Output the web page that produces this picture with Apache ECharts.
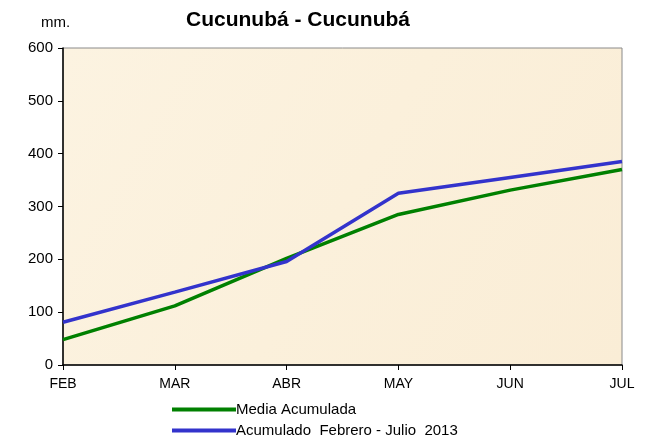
<!DOCTYPE html>
<html>
<head>
<meta charset="utf-8">
<script src="https://cdn.jsdelivr.net/npm/echarts@6/dist/echarts.min.js"></script>
<style>
html,body{margin:0;padding:0;background:#fff;}
#c{width:656px;height:443px;}
</style>
</head>
<body>
<div id="c"></div>
<script>
const categories = ['FEB', 'MAR', 'ABR', 'MAY', 'JUN', 'JUL'];
const mediaAcumulada = [48, 112, 202, 285, 331, 370];
const acumulado2013 = [81, 138, 196, 325, 355, 385];
const seriesNames = ['Media Acumulada', 'Acumulado  Febrero - Julio  2013'];
const yTicks = [0, 100, 200, 300, 400, 500, 600];

const chart = echarts.init(document.getElementById('c'), null, {renderer: 'canvas'});
const font = 'Liberation Sans, Arial, sans-serif';
chart.setOption({
  animation: false,
  backgroundColor: '#ffffff',
  title: [
    {text: 'Cucunubá - Cucunubá', left: 293, top: 5, textAlign: 'center',
     textStyle: {fontFamily: font, fontSize: 21, fontWeight: 'bold', color: '#000'}},
    {text: 'mm.', left: 36, top: 10,
     textStyle: {fontFamily: font, fontSize: 15, fontWeight: 'normal', color: '#000'}}
  ],
  grid: {left: 63, right: 34, top: 48, bottom: 78, show: true,
    backgroundColor: new echarts.graphic.LinearGradient(0, 0, 1, 1, [
      {offset: 0, color: '#FCF3E1'}, {offset: 0.5, color: '#FBF0DB'}, {offset: 1, color: '#FAEDD6'}]),
    borderColor: '#8a8a8a', borderWidth: 1},
  legend: {
    orient: 'vertical', left: 167, top: 397, itemGap: 6,
    itemWidth: 64, itemHeight: 4, icon: 'rect',
    textStyle: {fontFamily: font, fontSize: 15, color: '#000', padding: [0, 0, 0, -5]},
    data: seriesNames
  },
  xAxis: {
    type: 'category', data: categories, boundaryGap: false,
    axisLine: {lineStyle: {color: '#000', width: 1.5}},
    axisTick: {show: true, inside: false, length: 5, lineStyle: {color: '#000'}},
    axisLabel: {fontFamily: font, fontSize: 14, color: '#000', margin: 12},
    splitLine: {show: false}
  },
  yAxis: {
    type: 'value', min: 0, max: 600, interval: 100,
    axisLine: {show: true, lineStyle: {color: '#000', width: 1.5}},
    axisTick: {show: true, length: 5, lineStyle: {color: '#000'}},
    axisLabel: {fontFamily: font, fontSize: 15, color: '#000', margin: 10,
      formatter: v => yTicks.includes(v) ? String(v) : ''},
    splitLine: {show: false}
  },
  series: [
    {name: seriesNames[0], type: 'line', data: mediaAcumulada, symbol: 'none',
     lineStyle: {color: '#008000', width: 3.5}, itemStyle: {color: '#008000'}},
    {name: seriesNames[1], type: 'line', data: acumulado2013, symbol: 'none',
     lineStyle: {color: '#3333CC', width: 3.5}, itemStyle: {color: '#3333CC'}}
  ]
});
</script>
</body>
</html>
